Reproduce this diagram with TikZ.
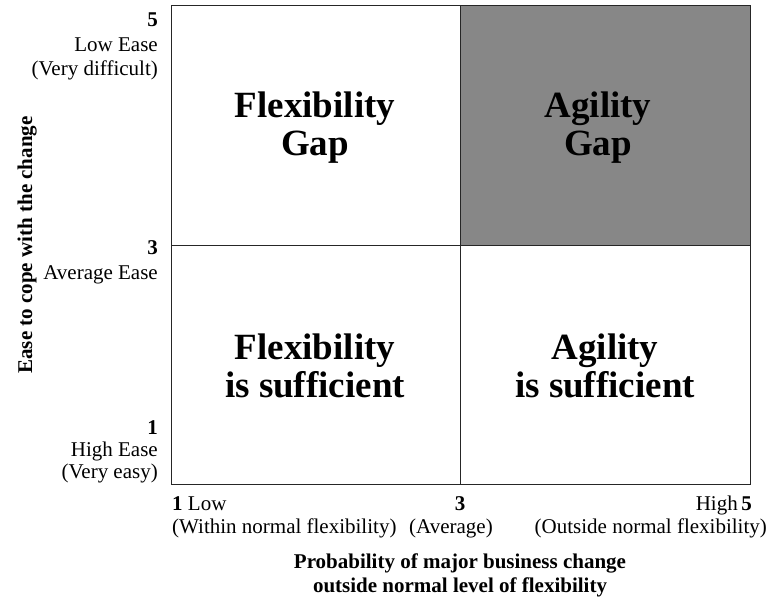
\documentclass[tikz,border=0pt]{standalone}
\usepackage{fontspec}
\setmainfont{Liberation Serif}

\begin{document}
\begin{tikzpicture}[x=1pt, y=-1pt,
    petit/.style={font=\fontsize{21}{23}\selectfont, inner sep=0pt},
    gros/.style={font=\fontsize{37}{38}\selectfont\bfseries, align=center, inner sep=0pt},
    titre/.style={font=\fontsize{21}{24}\selectfont\bfseries, inner sep=0pt},
    trait/.style={line width=0.8pt, black!85}]
  % cadre de la matrice (en pixels)
  \def\xg{171}   % bord gauche
  \def\xm{460}   % milieu, valeur 3
  \def\xd{750}   % bord droit
  \def\yh{5}     % haut
  \def\ym{245}   % milieu, valeur 3
  \def\yb{484}   % bas
  \useasboundingbox (0,0) rectangle (770,600);
  % quadrant grisé
  \fill[black!47] (\xm,\yh) rectangle (\xd,\ym);
  % cadre et séparations
  \draw[trait] (\xg,\yh) rectangle (\xd,\yb);
  \draw[trait] (\xg,\ym) -- (\xd,\ym);
  \draw[trait] (\xm,\yh) -- (\xm,\yb);
  % textes des quadrants
  \node[gros] (fgap) at (315,128) {Flexibility\\Gap};
  \node[gros] (agap) at (598,128) {Agility\\Gap};
  \node[gros] (fsuf) at (315,366) {Flexibility\\is sufficient};
  \node[gros] (asuf) at (605,366) {Agility\\is sufficient};
  % graduations de l'axe vertical
  \node[petit, anchor=base east] (ycinq) at (158,26) {\textbf{5}};
  \node[petit, anchor=base east] (ycinqa) at (158,51) {Low Ease};
  \node[petit, anchor=base east] (ycinqb) at (158,75) {(Very difficult)};
  \node[petit, anchor=base east] (ytrois) at (158,254) {\textbf{3}};
  \node[petit, anchor=base east] (ytroisa) at (158,279) {Average Ease};
  \node[petit, anchor=base east] (yun) at (158,434) {\textbf{1}};
  \node[petit, anchor=base east] (yuna) at (158,456) {High Ease};
  \node[petit, anchor=base east] (yunb) at (158,478) {(Very easy)};
  % graduations de l'axe horizontal
  \node[petit, anchor=base west] (xun) at (172,510) {\textbf{1} Low};
  \node[petit, anchor=base] (xtrois) at (\xm,510) {\textbf{3}};
  \node[petit, anchor=base east] (xcinq) at (752,510) {High\,\textbf{5}};
  \node[petit, anchor=base west] (xuna) at (172,533) {(Within normal flexibility)};
  \node[petit, anchor=base] (xtroisa) at (451,533) {(Average)};
  \node[petit, anchor=base east] (xcinqa) at (767,533) {(Outside normal flexibility)};
  % titres des axes
  \node[titre, anchor=base] (xtitre) at (\xm,568) {Probability of major business change};
  \node[titre, anchor=base] (xtitreb) at (\xm,592) {outside normal level of flexibility};
  \node[titre, anchor=base, rotate=90] (ytitre) at (32,\ym) {Ease to cope with the change};
\end{tikzpicture}
\end{document}
